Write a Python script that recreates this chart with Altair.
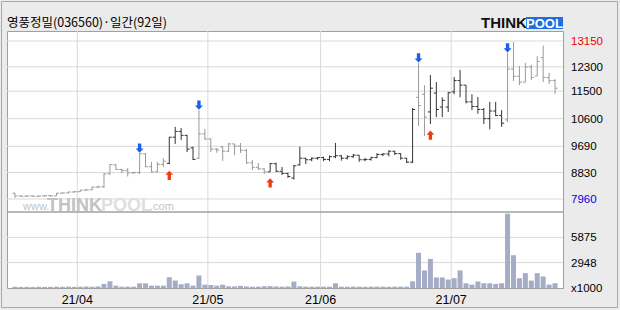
import altair as alt
import pandas as pd

title_text = "영풍정밀(036560)·일간(92일)"

opens = [8150, 8060, 8050, 8060, 8050, 8060, 8070, 8060, 8150, 8160,
         8190, 8200, 8250, 8260, 8350, 8360, 8790, 9080, 8930, 8900,
         8820, 8830, 9440, 9020, 8850, 9100, 9130, 9990, 10180, 10050,
         9640, 9300, 10100, 9930, 9600, 9670, 9530, 9770, 9700, 9560,
         9150, 9000, 8950, 8850, 9120, 8870, 8800, 8650, 9080, 9300,
         9250, 9300, 9320, 9260, 9350, 9380, 9300, 9350, 9400, 9250,
         9260, 9320, 9420, 9440, 9530, 9450, 9300, 9170, 11300, 11400,
         10820, 11440, 10980, 10980, 11480, 11850, 11700, 11150, 11000, 10900,
         10600, 10850, 10700, 10560, 12230, 11990, 11800, 12300, 12000, 12600,
         11950, 11850]
highs = [8160, 8080, 8070, 8080, 8070, 8090, 8090, 8160, 8170, 8200,
         8220, 8260, 8280, 8370, 8400, 8810, 9110, 9110, 8950, 8980,
         8850, 9470, 9470, 9180, 9180, 9300, 10000, 10330, 10290, 10060,
         9680, 10880, 10260, 9960, 9640, 9700, 9800, 9770, 9800, 9600,
         9240, 9140, 8970, 9150, 9150, 9010, 8820, 9080, 9680, 9310,
         9330, 9340, 9350, 9390, 9800, 9400, 9400, 9440, 9400, 9310,
         9350, 9470, 9470, 9560, 9540, 9470, 9310, 10950, 12430, 11700,
         12030, 11800, 11300, 11480, 11970, 12200, 11700, 11400, 11310, 10950,
         11150, 11150, 10880, 12760, 13120, 12330, 12430, 12370, 12650, 13000,
         12100, 11900]
lows = [8000, 8040, 8030, 8040, 8030, 8040, 8050, 8060, 8130, 8150,
        8170, 8190, 8230, 8250, 8320, 8320, 8750, 8920, 8810, 8700,
        8780, 8780, 9010, 8830, 8830, 9010, 9100, 9770, 9900, 9500,
        9240, 9280, 9900, 9500, 9480, 9210, 9500, 9400, 9470, 9110,
        8910, 8910, 8780, 8850, 8850, 8750, 8650, 8600, 9060, 9110,
        9200, 9250, 9200, 9200, 9300, 9220, 9260, 9310, 9180, 9200,
        9220, 9300, 9370, 9360, 9410, 9250, 9140, 9140, 10360, 10030,
        10420, 10650, 10650, 10820, 11400, 11300, 11100, 10880, 10760, 10420,
        10250, 10680, 10330, 10480, 11840, 11700, 11800, 11870, 12000, 11800,
        11740, 11410]
closes = [8060, 8050, 8060, 8050, 8060, 8070, 8060, 8150, 8160, 8190,
          8200, 8250, 8260, 8350, 8360, 8780, 9090, 8930, 8900, 8820,
          8830, 9450, 9020, 8850, 9100, 9200, 9990, 10180, 10050, 9600,
          9260, 10100, 9930, 9600, 9570, 9530, 9770, 9700, 9560, 9150,
          9000, 8950, 8850, 9120, 8870, 8800, 8700, 9050, 9300, 9250,
          9300, 9320, 9260, 9350, 9380, 9300, 9350, 9400, 9250, 9260,
          9320, 9420, 9440, 9530, 9450, 9300, 9170, 10900, 11030, 10650,
          11600, 10900, 11200, 11450, 11850, 11700, 11150, 11000, 10900, 10600,
          10850, 10700, 10450, 12230, 11990, 11800, 12300, 11950, 12480, 11950,
          11850, 11600]
volumes = [150, 120, 130, 110, 140, 120, 130, 150, 140, 160,
           130, 150, 170, 140, 180, 470, 780, 270, 150, 160,
           150, 540, 540, 270, 270, 270, 1250, 860, 440, 540,
           270, 1450, 390, 350, 270, 390, 200, 180, 250, 180,
           150, 160, 200, 220, 180, 150, 170, 740, 200, 150,
           150, 150, 150, 150, 550, 150, 140, 160, 150, 140,
           150, 160, 150, 140, 150, 160, 150, 780, 4080, 2040,
           3370, 1220, 1220, 980, 1140, 2040, 550, 390, 750, 550,
           550, 470, 550, 8620, 3800, 1140, 1720, 860, 1720, 1330,
           390, 550]

sell_signals = [21, 31, 68, 83]
buy_signals = [26, 43, 70]

price_ticks = [13150, 12300, 11500, 10600, 9690, 8830, 7960]
volume_ticks = [5875, 2948]
volume_max = 8812
volume_unit_label = "x1000"
month_labels = ["21/04", "21/05", "21/06", "21/07"]
month_starts = [11, 33, 52, 74]

n = len(closes)
idx = list(range(n))
phase = []
state = "sell"
for i in idx:
    if i in buy_signals:
        state = "buy"
    if i in sell_signals:
        state = "sell"
    phase.append(state)

df = pd.DataFrame({"i": idx, "open": opens, "high": highs, "low": lows,
                   "close": closes, "vol": volumes, "phase": phase})
sell_df = df[df["i"].isin(sell_signals)]
buy_df = df[df["i"].isin(buy_signals)]
months_df = pd.DataFrame({"pos": [m - 0.5 for m in month_starts], "lbl": month_labels})
pt_df = pd.DataFrame({"v": price_ticks,
                      "lbl": [str(v) for v in price_ticks],
                      "role": ["max" if v == max(price_ticks) else ("min" if v == min(price_ticks) else "mid")
                               for v in price_ticks]})
vt_df = pd.DataFrame({"v": volume_ticks + [0], "lbl": [str(v) for v in volume_ticks] + [volume_unit_label]})
vg_df = pd.DataFrame({"v": volume_ticks})
one = pd.DataFrame({"k": [0]})

W, H = 556, 257
xscale = alt.Scale(domain=[-0.5, n - 0.5], nice=False, zero=False)
pscale = alt.Scale(domain=[min(price_ticks), max(price_ticks)], range=[168, 10], nice=False, zero=False)
vscale = alt.Scale(domain=[0, volume_max], range=[257, 181], nice=False, zero=False)
X = alt.X("i:Q", scale=xscale, axis=None)
phase_color = alt.Color("phase:N", scale=alt.Scale(domain=["sell", "buy"], range=["#9a9a9a", "#333333"]), legend=None)

LABEL_FONT = "Liberation Sans"

frame = alt.Chart(one).mark_rect(fillOpacity=0, stroke="#a9a9a9", strokeWidth=1).encode(
    x=alt.value(-5.5), x2=alt.value(610.5), y=alt.value(-29.5), y2=alt.value(276.5))

vgrid = alt.Chart(months_df).mark_rule(color="#d9d9d9", strokeWidth=1).encode(
    x=alt.X("pos:Q", scale=xscale, axis=None), y=alt.value(0), y2=alt.value(H))
pgrid = alt.Chart(pt_df).mark_rule(color="#d9d9d9", strokeWidth=1).encode(
    y=alt.Y("v:Q", scale=pscale, axis=None), x=alt.value(0), x2=alt.value(W))
vgrid2 = alt.Chart(vg_df).mark_rule(color="#d9d9d9", strokeWidth=1).encode(
    y=alt.Y("v:Q", scale=vscale, axis=None), x=alt.value(0), x2=alt.value(W))
sep = alt.Chart(one).mark_rule(color="#a0a0a0", strokeWidth=1.5).encode(
    y=alt.value(181), x=alt.value(0), x2=alt.value(W))

wm_www = alt.Chart(one).mark_text(text="www.", align="left", baseline="alphabetic", font=LABEL_FONT,
                                  fontSize=11, color="#c4c4c4").encode(x=alt.value(16), y=alt.value(178.5))
wm_think = alt.Chart(one).mark_text(text="THINK", align="left", baseline="alphabetic", font=LABEL_FONT,
                                    fontSize=18, fontWeight="bold", color="#c2c2c2").encode(x=alt.value(40), y=alt.value(179.5))
wm_pool = alt.Chart(one).mark_text(text="POOL", align="left", baseline="alphabetic", font=LABEL_FONT,
                                   fontSize=18, fontWeight="bold", color="#dedede").encode(x=alt.value(94), y=alt.value(179.5))
wm_com = alt.Chart(one).mark_text(text=".com", align="left", baseline="alphabetic", font=LABEL_FONT,
                                  fontSize=11, color="#c4c4c4").encode(x=alt.value(143), y=alt.value(178.5))

vol = alt.Chart(df).mark_bar(size=5, color="#a4acc6").encode(
    x=X, y=alt.Y("vol:Q", scale=vscale, axis=None), y2=alt.datum(0))

hl = alt.Chart(df).mark_rule(strokeWidth=1).encode(
    x=X, y=alt.Y("low:Q", scale=pscale, axis=None), y2=alt.Y2("high:Q"), color=phase_color)
open_t = alt.Chart(df).mark_rule(strokeWidth=1, xOffset=-2.5, x2Offset=0).encode(
    x=X, x2=alt.X2("i:Q"), y=alt.Y("open:Q", scale=pscale, axis=None), color=phase_color)
close_t = alt.Chart(df).mark_rule(strokeWidth=1, xOffset=0, x2Offset=2.5).encode(
    x=X, x2=alt.X2("i:Q"), y=alt.Y("close:Q", scale=pscale, axis=None), color=phase_color)

DOWN = "M-0.36,-1L0.36,-1L0.36,0.1L0.85,0.1L0,1L-0.85,0.1L-0.36,0.1Z"
UP = "M-0.36,1L0.36,1L0.36,-0.1L0.85,-0.1L0,-1L-0.85,-0.1L-0.36,-0.1Z"
sell_ar = alt.Chart(sell_df).mark_point(shape=DOWN, filled=True, size=85, color="#1a5fe6", opacity=1,
                                        strokeWidth=0, yOffset=-5).encode(
    x=X, y=alt.Y("high:Q", scale=pscale, axis=None))
buy_ar = alt.Chart(buy_df).mark_point(shape=UP, filled=True, size=85, color="#ee3b12", opacity=1,
                                      strokeWidth=0, yOffset=11).encode(
    x=X, y=alt.Y("low:Q", scale=pscale, axis=None))

plabels = alt.Chart(pt_df).mark_text(align="left", baseline="middle", font=LABEL_FONT, fontSize=11.5, dy=1).encode(
    x=alt.value(564), y=alt.Y("v:Q", scale=pscale, axis=None), text="lbl:N",
    color=alt.Color("role:N", scale=alt.Scale(domain=["max", "mid", "min"], range=["#ee0000", "#000000", "#0000dd"]),
                    legend=None))
vlabels = alt.Chart(vt_df).mark_text(align="left", baseline="middle", font=LABEL_FONT, fontSize=11.5, color="black", dy=1).encode(
    x=alt.value(564), y=alt.Y("v:Q", scale=vscale, axis=None), text="lbl:N")
mlabels = alt.Chart(months_df).mark_text(align="center", baseline="middle", font=LABEL_FONT, fontSize=12.5, color="black").encode(
    x=alt.X("pos:Q", scale=xscale, axis=None), y=alt.value(269), text="lbl:N")

title = alt.Chart(one).mark_text(text=title_text, align="left", baseline="alphabetic", font="Noto Sans CJK KR",
                                 fontSize=12.5, color="black").encode(x=alt.value(0), y=alt.value(-4))
logo_think = alt.Chart(one).mark_text(text="THINK", align="left", baseline="alphabetic", font=LABEL_FONT,
                                      fontSize=15, fontWeight="bold", color="#111111").encode(x=alt.value(474), y=alt.value(-3))
logo_box = alt.Chart(one).mark_rect(color="#1d6fe0").encode(
    x=alt.value(519), x2=alt.value(556), y=alt.value(-14), y2=alt.value(-2))
logo_pool = alt.Chart(one).mark_text(text="POOL", align="center", baseline="alphabetic", font=LABEL_FONT,
                                     fontSize=13, fontWeight="bold", color="white").encode(x=alt.value(537.5), y=alt.value(-3.5))

chart = alt.layer(
    frame, vgrid, pgrid, vgrid2, sep,
    wm_www, wm_think, wm_pool, wm_com,
    vol, hl, open_t, close_t, sell_ar, buy_ar,
    plabels, vlabels, mlabels, title, logo_think, logo_box, logo_pool
).resolve_scale(y="independent", color="independent").properties(
    width=W, height=H,
    autosize=alt.AutoSizeParams(type="none"),
    padding={"left": 7, "top": 31, "right": 57, "bottom": 22},
    background="#ebebeb",
).configure_view(stroke="#a0a0a0", fill="white", strokeWidth=1)

chart.save("out.html", embed_options={"renderer": "svg", "actions": False})
